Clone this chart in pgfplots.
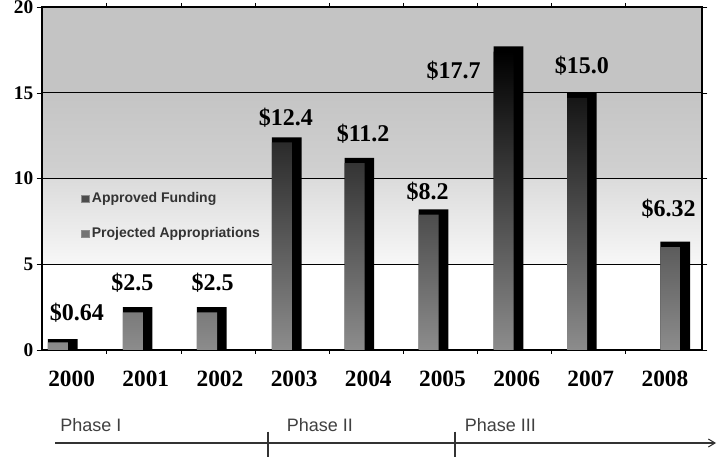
\documentclass[border=0pt]{standalone}
\usepackage{pgfplots}
\pgfplotsset{compat=1.18}
\usepackage{fontspec}
\setmainfont{Liberation Serif}
\newfontfamily\sansf{Liberation Sans}
\usetikzlibrary{arrows.meta}
\begin{document}
\begin{tikzpicture}[x=1pt,y=1pt]
\begin{axis}[
  set layers=standard,
  at={(31.5pt,87.75pt)}, anchor=south west,
  width=495pt, height=257.25pt, scale only axis,
  xmin=-0.4, xmax=8.5, ymin=0, ymax=20,
  xtick={0,1,2,3,4,5,6,7,8},
  xticklabels={2000,2001,2002,2003,2004,2005,2006,2007,2008},
  xtick style={draw=none},
  extra x ticks={0.47,1.47,2.47,3.47,4.47,5.47,6.47,7.47},
  extra x tick labels={},
  extra x tick style={xtick style={draw=black}, tick align=outside, major tick length=3pt},
  ytick={0,5,10,15,20},
  ytick style={draw=black},
  tick align=outside, major tick length=4pt,
  ymajorgrids, grid style={black, line width=0.8pt},
  axis line style={black, line width=0.8pt},
  /pgf/number format/assume math mode=true,
  yticklabel style={font=\bfseries\fontsize{14.5}{14.5}\selectfont, xshift=1pt},
  xticklabel style={font=\bfseries\fontsize{17.5}{17.5}\selectfont, yshift=-8pt},
  legend style={at={(0.053,0.475)}, anchor=north west, draw=none, fill=none,
    font=\sansf\bfseries\fontsize{10.5}{11}\selectfont, text=black!80, row sep=13pt,
    /tikz/every even column/.append style={column sep=1pt}},
  legend cell align=left,
]
% background bands
\addplot[on layer=axis background, draw=none, top color=gray!28, bottom color=gray!6, forget plot]
  coordinates {(-0.4,5) (8.5,5) (8.5,10) (-0.4,10)} -- cycle;
\addplot[on layer=axis background, draw=none, top color=gray!46, bottom color=gray!36, forget plot]
  coordinates {(-0.4,10) (8.5,10) (8.5,15) (-0.4,15)} -- cycle;
\addplot[on layer=axis background, draw=none, fill=gray!46, forget plot]
  coordinates {(-0.4,15) (8.5,15) (8.5,20) (-0.4,20)} -- cycle;
% bars: dark side/back
\addplot[ybar, bar width=0.4, bar shift=0, fill=black, draw=none, forget plot]
  coordinates {(-0.12,0.64) (0.89,2.5) (1.89,2.5) (2.9,12.4) (3.88,11.2) (4.88,8.2) (5.89,17.7) (6.88,15.0) (8.14,6.32)};
% bars: front face
\addplot[ybar, bar width=0.27, bar shift=-0.065, bottom color=black!45, middle color=black!60, top color=black, draw=none, forget plot]
  coordinates {(-0.12,0.45) (0.89,2.2) (1.89,2.2) (2.9,12.1) (3.88,10.9) (4.88,7.9) (5.89,17.4) (6.88,14.7) (8.14,6.0)};
% value labels
\addplot[draw=none, mark=none, forget plot, nodes near coords, point meta=explicit symbolic,
  every node near coord/.style={anchor=center, inner sep=0pt, font=\bfseries\fontsize{18}{18}\selectfont}]
  coordinates {(0.07,2.2) [\$0.64] (0.82,3.95) [\$2.5] (1.9,3.95) [\$2.5] (2.89,13.55) [\$12.4]
    (3.93,12.6) [\$11.2] (4.8,9.2) [\$8.2] (5.15,16.3) [\$17.7] (6.88,16.6) [\$15.0] (8.05,8.25) [\$6.32]};
\addlegendimage{legend image code/.code={\draw[fill=black!70, draw=black!45] (0pt,-2.8pt) rectangle (5.6pt,2.8pt);}}
\addlegendentry{Approved Funding}
\addlegendimage{legend image code/.code={\draw[fill=black!55, draw=black!45] (0pt,-2.8pt) rectangle (5.6pt,2.8pt);}}
\addlegendentry{Projected Appropriations}
\end{axis}
% phase timeline
\draw[black!80, line width=0.8pt, -{Straight Barb[length=5pt,width=6pt]}] (41.25,18) -- (537,18);
\draw[black!80, line width=0.8pt] (201,26.5) -- (201,7.5);
\draw[black!80, line width=0.8pt] (341.25,26.5) -- (341.25,7.5);
\node[anchor=base west, inner sep=0pt, font=\sansf\fontsize{13.5}{14}\selectfont, text=black!75] at (45,26.5) {Phase I};
\node[anchor=base west, inner sep=0pt, font=\sansf\fontsize{13.5}{14}\selectfont, text=black!75] at (215,26.5) {Phase II};
\node[anchor=base west, inner sep=0pt, font=\sansf\fontsize{13.5}{14}\selectfont, text=black!75] at (348.5,26.5) {Phase III};
\pgfresetboundingbox
\useasboundingbox (0,0) rectangle (540,350.25);
\end{tikzpicture}
\end{document}
